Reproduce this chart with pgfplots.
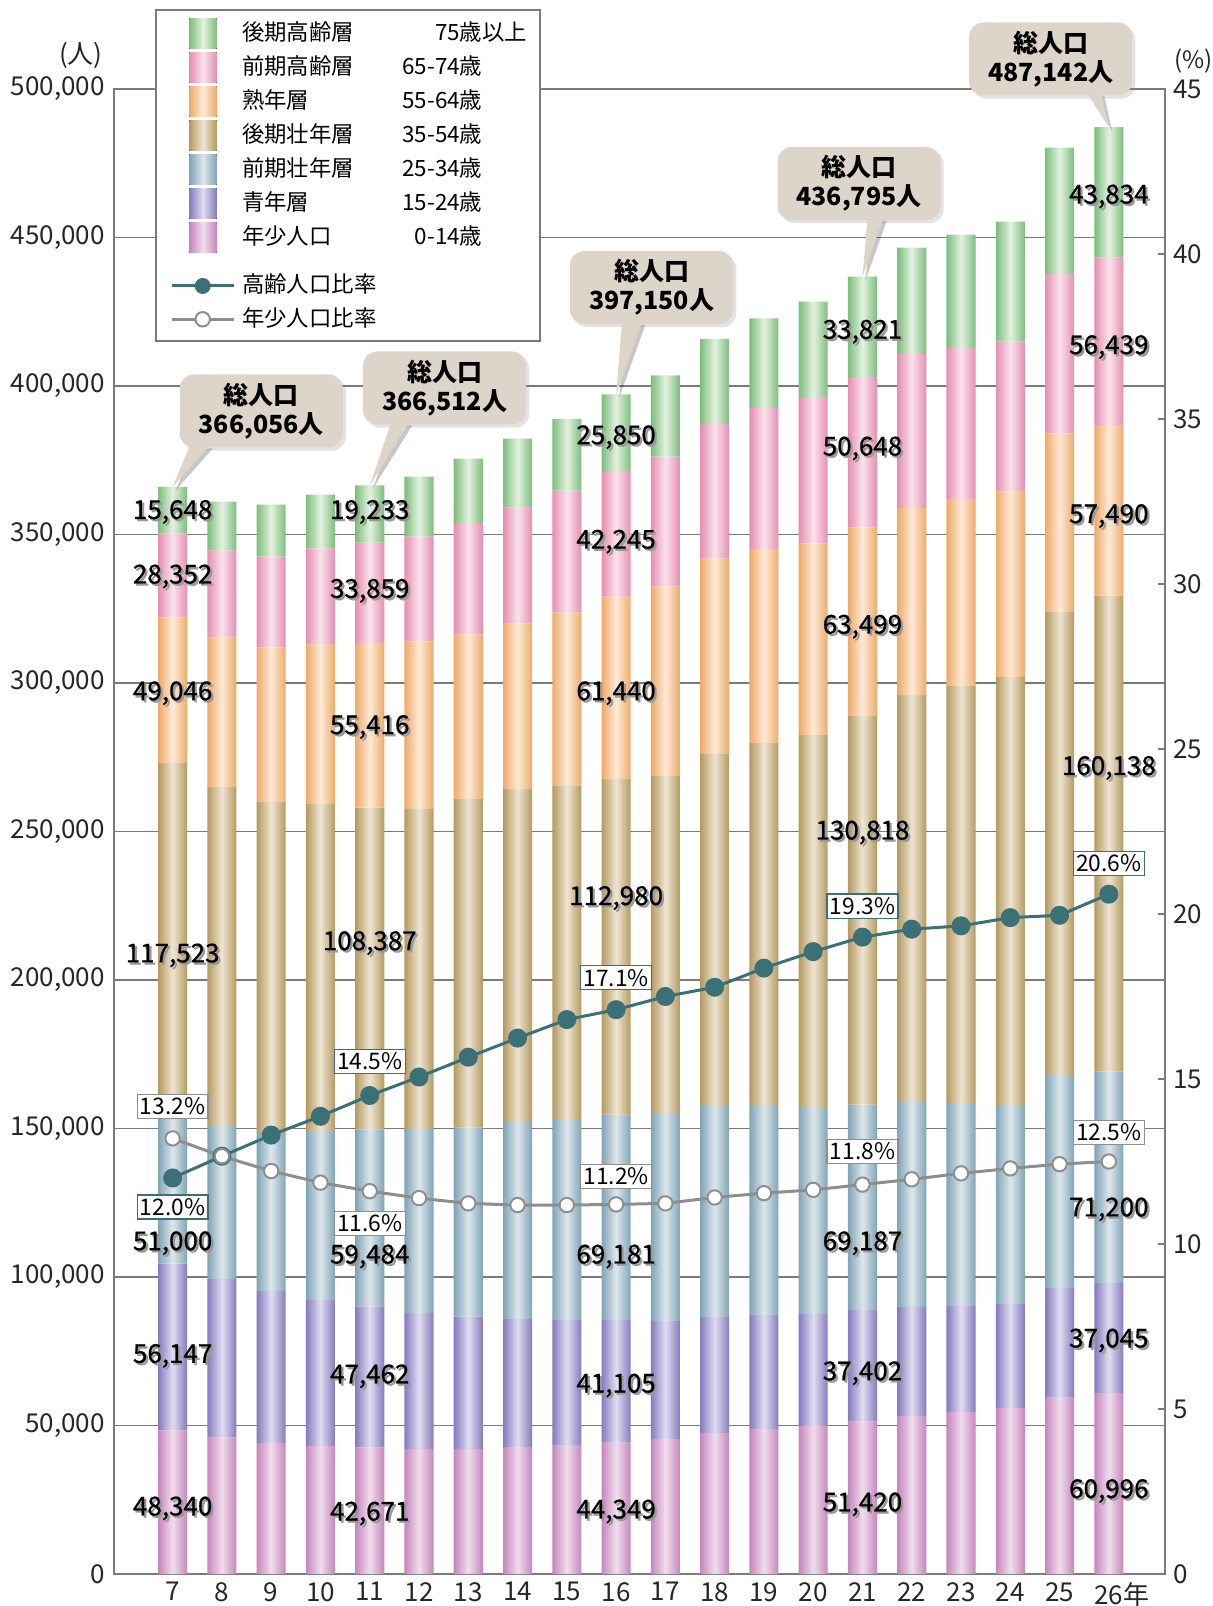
\documentclass[border=0pt]{standalone}
\usepackage{fontspec}
\setmainfont{Noto Sans CJK JP}
\newfontface\lblface[FakeBold=0.7]{Noto Sans CJK JP}
\usepackage{pgfplots}
\pgfplotsset{compat=1.18}
\usepackage{pgfplotstable}
\usetikzlibrary{shadows}

% bar colours: edge / centre of each band
\definecolor{gE}{HTML}{7CBD7C}\definecolor{gC}{HTML}{E4F2E0}
\definecolor{pE}{HTML}{E58EB1}\definecolor{pC}{HTML}{FAE3EC}
\definecolor{oE}{HTML}{EEAA68}\definecolor{oC}{HTML}{FDEAD8}
\definecolor{tE}{HTML}{B49A60}\definecolor{tC}{HTML}{EEE5D3}
\definecolor{bE}{HTML}{7FA4B6}\definecolor{bC}{HTML}{DEE7EC}
\definecolor{vE}{HTML}{857ABE}\definecolor{vC}{HTML}{E1DDF1}
\definecolor{mE}{HTML}{C685BC}\definecolor{mC}{HTML}{F0DEED}
\definecolor{tealc}{HTML}{3C7077}
\definecolor{grayc}{HTML}{8E8E8E}
\definecolor{axgray}{HTML}{7A7A7A}
\definecolor{cbg}{HTML}{DDD5C9}

% one horizontal shading per band, with a light stripe in the middle of each of the 20 bars
\newcommand\barshade[3]{%
  \gdef\shspec{color(0bp)=(#2)}%
  \foreach \i in {0,...,19}{%
    \pgfmathsetmacro\sa{25+50*\i/19.59}%
    \pgfmathsetmacro\sb{25+50*(\i+0.295)/19.59}%
    \pgfmathsetmacro\sc{25+50*(\i+0.59)/19.59}%
    \xdef\shspec{\shspec; color(\sa bp)=(#2); color(\sb bp)=(#3); color(\sc bp)=(#2)}%
  }%
  \xdef\shspec{\shspec; color(100bp)=(#2)}%
  \edef\tmp{\noexpand\pgfdeclarehorizontalshading{#1}{100bp}{\shspec}}\tmp}
\newcommand\keyshade[3]{%
  \pgfdeclarehorizontalshading{#1}{100bp}{color(0bp)=(#2); color(25bp)=(#2); color(50bp)=(#3); color(75bp)=(#2); color(100bp)=(#2)}}
\barshade{shG}{gE}{gC}\barshade{shP}{pE}{pC}\barshade{shO}{oE}{oC}\barshade{shT}{tE}{tC}
\barshade{shB}{bE}{bC}\barshade{shV}{vE}{vC}\barshade{shM}{mE}{mC}
\keyshade{kG}{gE}{gC}\keyshade{kP}{pE}{pC}\keyshade{kO}{oE}{oC}\keyshade{kT}{tE}{tC}
\keyshade{kB}{bE}{bC}\keyshade{kV}{vE}{vC}\keyshade{kM}{mE}{mC}

\newcommand\tkfont{\fontsize{13}{15}\selectfont}
\newcommand\lgfont{\fontsize{11.2}{13}\selectfont}

% population by age band: a 0-14, b 15-24, c 25-34, d 35-54, e 55-64, f 65-74, g 75+
\pgfplotstableread{
yr a b c d e f g
7 48340 56147 51000 117523 49046 28352 15648
8 45960 53423 51515 114012 50337 29372 16480
9 44164 51178 53087 111436 52131 30605 17489
10 43154 49158 56902 109979 53811 32287 18162
11 42671 47462 59484 108387 55416 33859 19233
12 42031 45904 61616 107960 56390 35426 20180
13 42031 44669 63637 110537 55494 37219 21974
14 42817 43098 66666 111657 55717 39126 23206
15 43490 42088 67677 111992 58520 41031 24103
16 44349 41105 69181 112980 61440 42245 25850
17 45511 39730 69697 113757 63819 43674 27398
18 47531 39057 71268 118252 65753 45286 28687
19 48878 38271 70707 121959 65270 47542 30137
20 49888 37710 69360 125596 64465 49315 32071
21 51420 37402 69187 130818 63499 50648 33821
22 53255 36700 69248 136728 63013 51894 35778
23 54602 35690 68238 140463 63013 50766 38195
24 55948 35017 66667 144423 62369 50604 40290
25 59652 36700 71605 156016 60112 53667 42546
26 60996 37045 71200 160138 57490 56439 43834
}\pop

% ratios in percent
\pgfplotstableread{
yr old young
7 12.0 13.2
8 12.66 12.66
9 13.30 12.21
10 13.87 11.86
11 14.5 11.6
12 15.06 11.39
13 15.66 11.23
14 16.24 11.18
15 16.80 11.18
16 17.1 11.2
17 17.50 11.23
18 17.78 11.41
19 18.36 11.54
20 18.86 11.64
21 19.3 11.8
22 19.54 11.96
23 19.64 12.14
24 19.89 12.29
25 19.96 12.42
26 20.6 12.5
}\ratio

\tikzset{
  dlab/.style={font=\lblface\fontsize{13}{15}\selectfont, inner sep=0pt},
  pbox/.style={draw=#1, fill=white, line width=0.6pt, inner xsep=1.4pt, inner ysep=1.7pt,
    font=\fontsize{11.4}{12}\selectfont},
  callout/.style={fill=cbg, rounded corners=7pt, minimum width=81.5pt, minimum height=36.5pt,
    align=center, inner sep=0pt, font=\bfseries\fontsize{12.5}{14.5}\selectfont,
    drop shadow={shadow xshift=1.6pt, shadow yshift=-1.6pt, opacity=0.22}},
}

% value label: grey drop shadow under black text
\newcommand\dl[3]{%
  \node[dlab,text=black!40,xshift=1.1pt,yshift=-1.1pt] at (axis cs:#1,#2) {#3};
  \node[dlab] at (axis cs:#1,#2) {#3};}

% callout: x, y, text, tail base offsets (pt from box left), tip x, tip y
\newcommand\callout[7]{%
  \fill[black,opacity=0.22] ([xshift=#4-39.15pt,yshift=-18.65pt]axis cs:#1,#2) -- ([xshift=#5-39.15pt,yshift=-18.65pt]axis cs:#1,#2) -- ([xshift=1.6pt,yshift=-1.6pt]axis cs:#6,#7) -- cycle;
  \node[callout] at (axis cs:#1,#2) {#3};
  \fill[cbg] ([xshift=#4-40.75pt,yshift=-17.25pt]axis cs:#1,#2) -- ([xshift=#5-40.75pt,yshift=-17.25pt]axis cs:#1,#2) -- (axis cs:#6,#7) -- cycle;}

\begin{document}
\begin{tikzpicture}
\begin{axis}[
  at={(0pt,0pt)}, anchor=south west,
  scale only axis, width=525.5pt, height=742.5pt,
  xmin=5.81, xmax=27.14, ymin=0, ymax=500000,
  ybar stacked, bar width=0.59, reverse stacked plots=false,
  clip=false,
  axis line style={draw=axgray, line width=0.6pt},
  ymajorgrids, grid style={draw=axgray, line width=0.6pt},
  xtick={7,8,9,10,11,12,13,14,15,16,17,18,19,20,21,22,23,24,25,26},
  xticklabels={7,8,9,10,11,12,13,14,15,16,17,18,19,20,21,22,23,24,25,26\rlap{年}},
  ytick={0,50000,100000,150000,200000,250000,300000,350000,400000,450000,500000},
  scaled y ticks=false,
  major tick length=0pt,
  xtick pos=bottom, ytick pos=left,
  tick label style={font=\tkfont, text=black!85},
  /pgf/number format/.cd, fixed, precision=0, 1000 sep={,}, assume math mode=true, /pgfplots/.cd,
  yticklabel style={anchor=east, inner sep=0pt, xshift=-4.5pt},
  xticklabel style={anchor=north, inner sep=0pt, yshift=-4pt},
]
\addplot[draw=none, shading=shM] table[x=yr,y=a]{\pop};
\addplot[draw=none, shading=shV] table[x=yr,y=b]{\pop};
\addplot[draw=none, shading=shB] table[x=yr,y=c]{\pop};
\addplot[draw=none, shading=shT] table[x=yr,y=d]{\pop};
\addplot[draw=none, shading=shO] table[x=yr,y=e]{\pop};
\addplot[draw=none, shading=shP] table[x=yr,y=f]{\pop};
\addplot[draw=none, shading=shG] table[x=yr,y=g]{\pop};

\dl{7}{357586}{15,648}\dl{7}{335862}{28,352}\dl{7}{296552}{49,046}\dl{7}{208276}{117,523}
\dl{7}{111379}{51,000}\dl{7}{73448}{56,147}\dl{7}{22069}{48,340}
\dl{11}{357586}{19,233}\dl{11}{331034}{33,859}\dl{11}{285172}{55,416}\dl{11}{212414}{108,387}
\dl{11}{106897}{59,484}\dl{11}{66552}{47,462}\dl{11}{20345}{42,671}
\dl{16}{382759}{25,850}\dl{16}{347586}{42,245}\dl{16}{296552}{61,440}\dl{16}{227586}{112,980}
\dl{16}{106897}{69,181}\dl{16}{63448}{41,105}\dl{16}{21034}{44,349}
\dl{21}{418276}{33,821}\dl{21}{378966}{50,648}\dl{21}{318966}{63,499}\dl{21}{249655}{130,818}
\dl{21}{111379}{69,187}\dl{21}{67586}{37,402}\dl{21}{23448}{51,420}
\dl{26}{463793}{43,834}\dl{26}{413103}{56,439}\dl{26}{356207}{57,490}\dl{26}{271379}{160,138}
\dl{26}{122759}{71,200}\dl{26}{78621}{37,045}\dl{26}{27931}{60,996}

\callout{8.80}{391582}{総人口\\366,056人}{5pt}{15pt}{7}{366056}
\callout{12.52}{399327}{総人口\\366,512人}{14pt}{23pt}{11}{366512}
\callout{16.72}{433165}{総人口\\397,150人}{26pt}{36pt}{16}{397150}
\callout{20.93}{468182}{総人口\\436,795人}{45pt}{53pt}{21}{436795}
\callout{24.82}{510101}{総人口\\487,142人}{59pt}{66pt}{26}{487142}
\end{axis}

\begin{axis}[
  at={(0pt,0pt)}, anchor=south west,
  scale only axis, width=525.5pt, height=742.5pt,
  xmin=5.81, xmax=27.14, ymin=0, ymax=45,
  axis x line=none, axis y line*=right,
  axis line style={draw=axgray, line width=0.6pt},
  ytick={0,5,10,15,20,25,30,35,40,45},
  tick align=inside, major tick length=3.5pt,
  ytick style={draw=axgray, line width=0.6pt},
  tick label style={font=\tkfont, text=black!85},
  /pgf/number format/.cd, fixed, assume math mode=true, /pgfplots/.cd,
  yticklabel style={anchor=west, inner sep=0pt, xshift=4pt},
  clip=false,
]
\addplot[tealc, line width=1.5pt, mark=*, mark size=4pt, mark options={fill=tealc, draw=tealc}]
  table[x=yr,y=old]{\ratio};
\addplot[grayc, line width=1.5pt, mark=*, mark size=3.6pt, mark options={fill=white, draw=grayc, line width=1pt}]
  table[x=yr,y=young]{\ratio};

\node[pbox=grayc, yshift=16pt] at (axis cs:7,13.2) {13.2\%};
\node[pbox=tealc, yshift=-14.5pt] at (axis cs:7,12.0) {12.0\%};
\node[pbox=tealc, yshift=17pt] at (axis cs:11,14.5) {14.5\%};
\node[pbox=grayc, yshift=-16pt] at (axis cs:11,11.6) {11.6\%};
\node[pbox=tealc, yshift=16pt] at (axis cs:16,17.1) {17.1\%};
\node[pbox=grayc, yshift=14pt] at (axis cs:16,11.2) {11.2\%};
\node[pbox=tealc, yshift=15.5pt] at (axis cs:21,19.3) {19.3\%};
\node[pbox=grayc, yshift=16.5pt] at (axis cs:21,11.8) {11.8\%};
\node[pbox=tealc, yshift=15.5pt] at (axis cs:26,20.6) {20.6\%};
\node[pbox=grayc, yshift=14.5pt] at (axis cs:26,12.5) {12.5\%};
\end{axis}

% unit labels
\node[anchor=east, font=\tkfont, inner sep=0pt, text=black!85] at (-5.5pt,759.5pt) {(人)};
\node[anchor=west, font=\fontsize{12}{14}\selectfont, inner sep=0pt, text=black!85] at (530pt,756.5pt) {(\%)};

% legend, in pixel units of the reference
\begin{scope}[x=0.5pt,y=0.5pt]
\draw[axgray, line width=0.6pt, fill=white] (42,1564) rectangle (426,1233);
\foreach \y/\s/\n/\r in {1540.3/kG/後期高齢層/75歳\rlap{以上},1506.5/kP/前期高齢層/65-74歳,
  1472.5/kO/熟年層/55-64歳,1438.5/kT/後期壮年層/35-54歳,1404.5/kB/前期壮年層/25-34歳,
  1370.5/kV/青年層/15-24歳,1336.5/kM/年少人口/0-14歳}{
  \fill[shading=\s] (75.3,\y-15.3) rectangle (102.7,\y+15.3);
  \node[anchor=west, font=\lgfont, inner sep=0pt, text height=0.85em, text depth=0.15em] at (127.7,\y) {\n};
  \node[anchor=east, font=\lgfont, inner sep=0pt, text height=0.85em, text depth=0.15em] at (368.7,\y) {\r};
}
\draw[tealc, line width=1.5pt] (57.7,1288) -- (120,1288);
\fill[tealc] (88.7,1288) circle (4pt);
\node[anchor=west, font=\lgfont, inner sep=0pt, text height=0.85em, text depth=0.15em] at (127.7,1288) {高齢人口比率};
\draw[grayc, line width=1.5pt] (57.7,1254.7) -- (120,1254.7);
\draw[grayc, line width=1pt, fill=white] (88.7,1254.7) circle (3.6pt);
\node[anchor=west, font=\lgfont, inner sep=0pt, text height=0.85em, text depth=0.15em] at (127.7,1254.7) {年少人口比率};
\end{scope}

\pgfresetboundingbox
\path[use as bounding box] (-57pt,-16pt) rectangle (549pt,787pt);
\end{tikzpicture}
\end{document}
